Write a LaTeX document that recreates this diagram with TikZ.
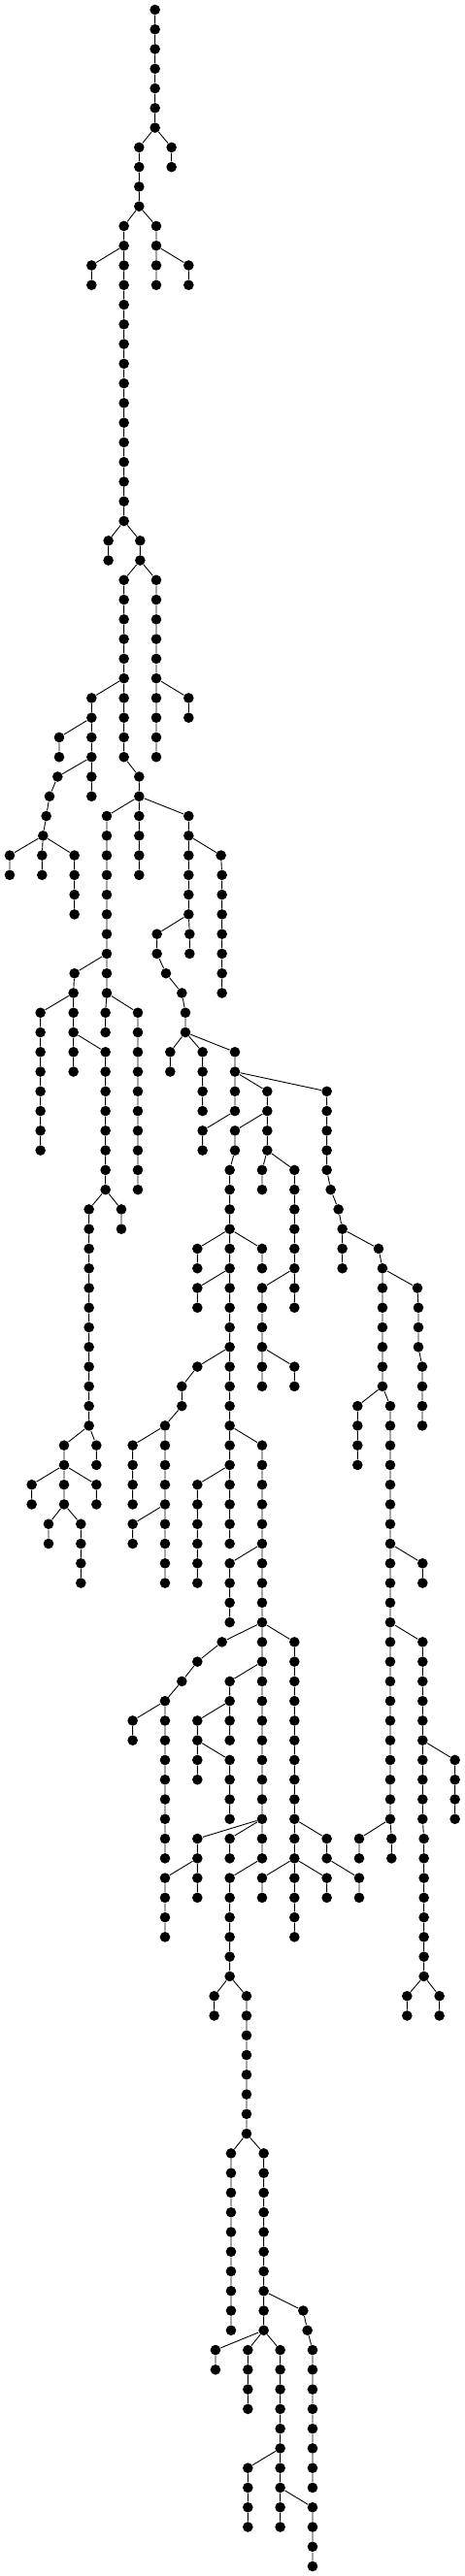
\documentclass[tikz,border=0pt]{standalone}
\begin{document}
\begin{tikzpicture}[x=0.33333pt,y=-20.27pt,line width=0.9pt,
  vtx/.style={circle,fill=black,minimum size=10.6pt,inner sep=0pt}]
\useasboundingbox (0,-0.4933) rectangle (1437,130.4933);

% levels 0 - 14
\node[vtx] (v0x479) at (479,0) {};
\node[vtx] (v1x479) at (479,1) {};
\node[vtx] (v2x479) at (479,2) {};
\node[vtx] (v3x479) at (479,3) {};
\node[vtx] (v4x479) at (479,4) {};
\node[vtx] (v5x479) at (479,5) {};
\node[vtx] (v6x479) at (479,6) {};
\node[vtx] (v7x430) at (430,7) {}; \node[vtx] (v7x530) at (530,7) {};
\node[vtx] (v8x430) at (430,8) {}; \node[vtx] (v8x530) at (530,8) {};
\node[vtx] (v9x430) at (430,9) {};
\node[vtx] (v10x430) at (430,10) {};
\node[vtx] (v11x383) at (383,11) {}; \node[vtx] (v11x483) at (483,11) {};
\node[vtx] (v12x383) at (383,12) {}; \node[vtx] (v12x483) at (483,12) {};
\node[vtx] (v13x283) at (283,13) {}; \node[vtx] (v13x383) at (383,13) {}; \node[vtx] (v13x483) at (483,13) {}; \node[vtx] (v13x583) at (583,13) {};
\node[vtx] (v14x283) at (283,14) {}; \node[vtx] (v14x383) at (383,14) {}; \node[vtx] (v14x483) at (483,14) {}; \node[vtx] (v14x583) at (583,14) {};

% levels 15 - 42
\node[vtx] (v15x383) at (383,15) {};
\node[vtx] (v16x383) at (383,16) {};
\node[vtx] (v17x383) at (383,17) {};
\node[vtx] (v18x383) at (383,18) {};
\node[vtx] (v19x383) at (383,19) {};
\node[vtx] (v20x383) at (383,20) {};
\node[vtx] (v21x383) at (383,21) {};
\node[vtx] (v22x383) at (383,22) {};
\node[vtx] (v23x383) at (383,23) {};
\node[vtx] (v24x383) at (383,24) {};
\node[vtx] (v25x383) at (383,25) {};
\node[vtx] (v26x383) at (383,26) {};
\node[vtx] (v27x335) at (335,27) {}; \node[vtx] (v27x433) at (433,27) {};
\node[vtx] (v28x335) at (335,28) {}; \node[vtx] (v28x433) at (433,28) {};
\node[vtx] (v29x383) at (383,29) {}; \node[vtx] (v29x483) at (483,29) {};
\node[vtx] (v30x383) at (383,30) {}; \node[vtx] (v30x483) at (483,30) {};
\node[vtx] (v31x383) at (383,31) {}; \node[vtx] (v31x483) at (483,31) {};
\node[vtx] (v32x383) at (383,32) {}; \node[vtx] (v32x483) at (483,32) {};
\node[vtx] (v33x383) at (383,33) {}; \node[vtx] (v33x483) at (483,33) {};
\node[vtx] (v34x383) at (383,34) {}; \node[vtx] (v34x483) at (483,34) {};
\node[vtx] (v35x283) at (283,35) {}; \node[vtx] (v35x383) at (383,35) {}; \node[vtx] (v35x483) at (483,35) {}; \node[vtx] (v35x583) at (583,35) {};
\node[vtx] (v36x283) at (283,36) {}; \node[vtx] (v36x383) at (383,36) {}; \node[vtx] (v36x483) at (483,36) {}; \node[vtx] (v36x583) at (583,36) {};
\node[vtx] (v37x183) at (183,37) {}; \node[vtx] (v37x283) at (283,37) {}; \node[vtx] (v37x383) at (383,37) {}; \node[vtx] (v37x483) at (483,37) {};
\node[vtx] (v38x183) at (183,38) {}; \node[vtx] (v38x283) at (283,38) {}; \node[vtx] (v38x383) at (383,38) {}; \node[vtx] (v38x483) at (483,38) {};
\node[vtx] (v39x178) at (178,39) {}; \node[vtx] (v39x283) at (283,39) {}; \node[vtx] (v39x430) at (430,39) {};
\node[vtx] (v40x153) at (153,40) {}; \node[vtx] (v40x283) at (283,40) {}; \node[vtx] (v40x430) at (430,40) {};
\node[vtx] (v41x143) at (143,41) {}; \node[vtx] (v41x330) at (330,41) {}; \node[vtx] (v41x430) at (430,41) {}; \node[vtx] (v41x583) at (583,41) {};
\node[vtx] (v42x133) at (133,42) {}; \node[vtx] (v42x330) at (330,42) {}; \node[vtx] (v42x430) at (430,42) {}; \node[vtx] (v42x583) at (583,42) {};

% levels 43 - 62
\node[vtx] (v43x30) at (30,43) {}; \node[vtx] (v43x130) at (130,43) {}; \node[vtx] (v43x230) at (230,43) {}; \node[vtx] (v43x330) at (330,43) {}; \node[vtx] (v43x430) at (430,43) {}; \node[vtx] (v43x583) at (583,43) {}; \node[vtx] (v43x683) at (683,43) {};
\node[vtx] (v44x30) at (30,44) {}; \node[vtx] (v44x130) at (130,44) {}; \node[vtx] (v44x230) at (230,44) {}; \node[vtx] (v44x330) at (330,44) {}; \node[vtx] (v44x430) at (430,44) {}; \node[vtx] (v44x583) at (583,44) {}; \node[vtx] (v44x686) at (686,44) {};
\node[vtx] (v45x230) at (230,45) {}; \node[vtx] (v45x330) at (330,45) {}; \node[vtx] (v45x583) at (583,45) {}; \node[vtx] (v45x686) at (686,45) {};
\node[vtx] (v46x230) at (230,46) {}; \node[vtx] (v46x330) at (330,46) {}; \node[vtx] (v46x583) at (583,46) {}; \node[vtx] (v46x686) at (686,46) {};
\node[vtx] (v47x330) at (330,47) {}; \node[vtx] (v47x485) at (485,47) {}; \node[vtx] (v47x586) at (586,47) {}; \node[vtx] (v47x686) at (686,47) {};
\node[vtx] (v48x330) at (330,48) {}; \node[vtx] (v48x485) at (485,48) {}; \node[vtx] (v48x586) at (586,48) {}; \node[vtx] (v48x686) at (686,48) {};
\node[vtx] (v49x230) at (230,49) {}; \node[vtx] (v49x330) at (330,49) {}; \node[vtx] (v49x513) at (513,49) {}; \node[vtx] (v49x686) at (686,49) {};
\node[vtx] (v50x227) at (227,50) {}; \node[vtx] (v50x330) at (330,50) {}; \node[vtx] (v50x562) at (562,50) {}; \node[vtx] (v50x686) at (686,50) {};
\node[vtx] (v51x125) at (125,51) {}; \node[vtx] (v51x227) at (227,51) {}; \node[vtx] (v51x326) at (326,51) {}; \node[vtx] (v51x426) at (426,51) {}; \node[vtx] (v51x573) at (573,51) {};
\node[vtx] (v52x125) at (125,52) {}; \node[vtx] (v52x227) at (227,52) {}; \node[vtx] (v52x326) at (326,52) {}; \node[vtx] (v52x426) at (426,52) {}; \node[vtx] (v52x573) at (573,52) {};
\node[vtx] (v53x125) at (125,53) {}; \node[vtx] (v53x227) at (227,53) {}; \node[vtx] (v53x326) at (326,53) {}; \node[vtx] (v53x426) at (426,53) {}; \node[vtx] (v53x526) at (526,53) {}; \node[vtx] (v53x626) at (626,53) {}; \node[vtx] (v53x726) at (726,53) {};
\node[vtx] (v54x125) at (125,54) {}; \node[vtx] (v54x227) at (227,54) {}; \node[vtx] (v54x326) at (326,54) {}; \node[vtx] (v54x426) at (426,54) {}; \node[vtx] (v54x526) at (526,54) {}; \node[vtx] (v54x626) at (626,54) {}; \node[vtx] (v54x726) at (726,54) {};
\node[vtx] (v55x125) at (125,55) {}; \node[vtx] (v55x326) at (326,55) {}; \node[vtx] (v55x426) at (426,55) {}; \node[vtx] (v55x626) at (626,55) {}; \node[vtx] (v55x726) at (726,55) {}; \node[vtx] (v55x826) at (826,55) {}; \node[vtx] (v55x1010) at (1010,55) {};
\node[vtx] (v56x125) at (125,56) {}; \node[vtx] (v56x326) at (326,56) {}; \node[vtx] (v56x426) at (426,56) {}; \node[vtx] (v56x626) at (626,56) {}; \node[vtx] (v56x726) at (726,56) {}; \node[vtx] (v56x826) at (826,56) {}; \node[vtx] (v56x1010) at (1010,56) {};
\node[vtx] (v57x125) at (125,57) {}; \node[vtx] (v57x326) at (326,57) {}; \node[vtx] (v57x426) at (426,57) {}; \node[vtx] (v57x626) at (626,57) {}; \node[vtx] (v57x726) at (726,57) {}; \node[vtx] (v57x826) at (826,57) {}; \node[vtx] (v57x1010) at (1010,57) {};
\node[vtx] (v58x125) at (125,58) {}; \node[vtx] (v58x326) at (326,58) {}; \node[vtx] (v58x426) at (426,58) {}; \node[vtx] (v58x626) at (626,58) {}; \node[vtx] (v58x726) at (726,58) {}; \node[vtx] (v58x826) at (826,58) {}; \node[vtx] (v58x1010) at (1010,58) {};
\node[vtx] (v59x326) at (326,59) {}; \node[vtx] (v59x426) at (426,59) {}; \node[vtx] (v59x710) at (710,59) {}; \node[vtx] (v59x810) at (810,59) {}; \node[vtx] (v59x910) at (910,59) {}; \node[vtx] (v59x1010) at (1010,59) {};
\node[vtx] (v60x326) at (326,60) {}; \node[vtx] (v60x426) at (426,60) {}; \node[vtx] (v60x710) at (710,60) {}; \node[vtx] (v60x810) at (810,60) {}; \node[vtx] (v60x910) at (910,60) {}; \node[vtx] (v60x1022) at (1022,60) {};
\node[vtx] (v61x275) at (275,61) {}; \node[vtx] (v61x375) at (375,61) {}; \node[vtx] (v61x710) at (710,61) {}; \node[vtx] (v61x910) at (910,61) {}; \node[vtx] (v61x1046) at (1046,61) {};
\node[vtx] (v62x275) at (275,62) {}; \node[vtx] (v62x375) at (375,62) {}; \node[vtx] (v62x710) at (710,62) {}; \node[vtx] (v62x910) at (910,62) {}; \node[vtx] (v62x1058) at (1058,62) {};

% levels 63 - 82
\node[vtx] (v63x275) at (275,63) {}; \node[vtx] (v63x610) at (610,63) {}; \node[vtx] (v63x710) at (710,63) {}; \node[vtx] (v63x810) at (810,63) {}; \node[vtx] (v63x910) at (910,63) {}; \node[vtx] (v63x1058) at (1058,63) {}; \node[vtx] (v63x1170) at (1170,63) {};
\node[vtx] (v64x275) at (275,64) {}; \node[vtx] (v64x610) at (610,64) {}; \node[vtx] (v64x710) at (710,64) {}; \node[vtx] (v64x810) at (810,64) {}; \node[vtx] (v64x910) at (910,64) {}; \node[vtx] (v64x1058) at (1058,64) {}; \node[vtx] (v64x1182) at (1182,64) {};
\node[vtx] (v65x275) at (275,65) {}; \node[vtx] (v65x610) at (610,65) {}; \node[vtx] (v65x710) at (710,65) {}; \node[vtx] (v65x810) at (810,65) {}; \node[vtx] (v65x910) at (910,65) {}; \node[vtx] (v65x1182) at (1182,65) {}; \node[vtx] (v65x1290) at (1290,65) {};
\node[vtx] (v66x275) at (275,66) {}; \node[vtx] (v66x610) at (610,66) {}; \node[vtx] (v66x710) at (710,66) {}; \node[vtx] (v66x810) at (810,66) {}; \node[vtx] (v66x910) at (910,66) {}; \node[vtx] (v66x1182) at (1182,66) {}; \node[vtx] (v66x1293) at (1293,66) {};
\node[vtx] (v67x275) at (275,67) {}; \node[vtx] (v67x710) at (710,67) {}; \node[vtx] (v67x810) at (810,67) {}; \node[vtx] (v67x1182) at (1182,67) {}; \node[vtx] (v67x1293) at (1293,67) {};
\node[vtx] (v68x275) at (275,68) {}; \node[vtx] (v68x710) at (710,68) {}; \node[vtx] (v68x810) at (810,68) {}; \node[vtx] (v68x1182) at (1182,68) {}; \node[vtx] (v68x1293) at (1293,68) {};
\node[vtx] (v69x275) at (275,69) {}; \node[vtx] (v69x610) at (610,69) {}; \node[vtx] (v69x710) at (710,69) {}; \node[vtx] (v69x810) at (810,69) {}; \node[vtx] (v69x910) at (910,69) {}; \node[vtx] (v69x1182) at (1182,69) {}; \node[vtx] (v69x1305) at (1305,69) {};
\node[vtx] (v70x275) at (275,70) {}; \node[vtx] (v70x562) at (562,70) {}; \node[vtx] (v70x710) at (710,70) {}; \node[vtx] (v70x810) at (810,70) {}; \node[vtx] (v70x910) at (910,70) {}; \node[vtx] (v70x1182) at (1182,70) {}; \node[vtx] (v70x1305) at (1305,70) {};
\node[vtx] (v71x275) at (275,71) {}; \node[vtx] (v71x562) at (562,71) {}; \node[vtx] (v71x710) at (710,71) {}; \node[vtx] (v71x1105) at (1105,71) {}; \node[vtx] (v71x1206) at (1206,71) {}; \node[vtx] (v71x1305) at (1305,71) {};
\node[vtx] (v72x275) at (275,72) {}; \node[vtx] (v72x510) at (510,72) {}; \node[vtx] (v72x710) at (710,72) {}; \node[vtx] (v72x1105) at (1105,72) {}; \node[vtx] (v72x1206) at (1206,72) {}; \node[vtx] (v72x1305) at (1305,72) {};
\node[vtx] (v73x198) at (198,73) {}; \node[vtx] (v73x298) at (298,73) {}; \node[vtx] (v73x410) at (410,73) {}; \node[vtx] (v73x510) at (510,73) {}; \node[vtx] (v73x710) at (710,73) {}; \node[vtx] (v73x810) at (810,73) {}; \node[vtx] (v73x1105) at (1105,73) {}; \node[vtx] (v73x1206) at (1206,73) {};
\node[vtx] (v74x198) at (198,74) {}; \node[vtx] (v74x298) at (298,74) {}; \node[vtx] (v74x410) at (410,74) {}; \node[vtx] (v74x510) at (510,74) {}; \node[vtx] (v74x710) at (710,74) {}; \node[vtx] (v74x810) at (810,74) {}; \node[vtx] (v74x1105) at (1105,74) {}; \node[vtx] (v74x1206) at (1206,74) {};
\node[vtx] (v75x98) at (98,75) {}; \node[vtx] (v75x198) at (198,75) {}; \node[vtx] (v75x298) at (298,75) {}; \node[vtx] (v75x410) at (410,75) {}; \node[vtx] (v75x510) at (510,75) {}; \node[vtx] (v75x610) at (610,75) {}; \node[vtx] (v75x710) at (710,75) {}; \node[vtx] (v75x810) at (810,75) {}; \node[vtx] (v75x1206) at (1206,75) {};
\node[vtx] (v76x98) at (98,76) {}; \node[vtx] (v76x198) at (198,76) {}; \node[vtx] (v76x298) at (298,76) {}; \node[vtx] (v76x410) at (410,76) {}; \node[vtx] (v76x510) at (510,76) {}; \node[vtx] (v76x610) at (610,76) {}; \node[vtx] (v76x710) at (710,76) {}; \node[vtx] (v76x810) at (810,76) {}; \node[vtx] (v76x1206) at (1206,76) {};
\node[vtx] (v77x150) at (150,77) {}; \node[vtx] (v77x250) at (250,77) {}; \node[vtx] (v77x410) at (410,77) {}; \node[vtx] (v77x510) at (510,77) {}; \node[vtx] (v77x610) at (610,77) {}; \node[vtx] (v77x710) at (710,77) {}; \node[vtx] (v77x810) at (810,77) {}; \node[vtx] (v77x1206) at (1206,77) {};
\node[vtx] (v78x150) at (150,78) {}; \node[vtx] (v78x250) at (250,78) {}; \node[vtx] (v78x410) at (410,78) {}; \node[vtx] (v78x510) at (510,78) {}; \node[vtx] (v78x610) at (610,78) {}; \node[vtx] (v78x710) at (710,78) {}; \node[vtx] (v78x810) at (810,78) {}; \node[vtx] (v78x1206) at (1206,78) {};
\node[vtx] (v79x250) at (250,79) {}; \node[vtx] (v79x510) at (510,79) {}; \node[vtx] (v79x610) at (610,79) {}; \node[vtx] (v79x710) at (710,79) {}; \node[vtx] (v79x810) at (810,79) {}; \node[vtx] (v79x1206) at (1206,79) {}; \node[vtx] (v79x1306) at (1306,79) {};
\node[vtx] (v80x250) at (250,80) {}; \node[vtx] (v80x510) at (510,80) {}; \node[vtx] (v80x610) at (610,80) {}; \node[vtx] (v80x710) at (710,80) {}; \node[vtx] (v80x810) at (810,80) {}; \node[vtx] (v80x1206) at (1206,80) {}; \node[vtx] (v80x1306) at (1306,80) {};
\node[vtx] (v81x710) at (710,81) {}; \node[vtx] (v81x810) at (810,81) {}; \node[vtx] (v81x1206) at (1206,81) {};
\node[vtx] (v82x710) at (710,82) {}; \node[vtx] (v82x810) at (810,82) {}; \node[vtx] (v82x1206) at (1206,82) {};

% levels 83 - 102
\node[vtx] (v83x686) at (686,83) {}; \node[vtx] (v83x810) at (810,83) {}; \node[vtx] (v83x910) at (910,83) {}; \node[vtx] (v83x1206) at (1206,83) {}; \node[vtx] (v83x1306) at (1306,83) {};
\node[vtx] (v84x610) at (610,84) {}; \node[vtx] (v84x810) at (810,84) {}; \node[vtx] (v84x910) at (910,84) {}; \node[vtx] (v84x1206) at (1206,84) {}; \node[vtx] (v84x1306) at (1306,84) {};
\node[vtx] (v85x562) at (562,85) {}; \node[vtx] (v85x710) at (710,85) {}; \node[vtx] (v85x810) at (810,85) {}; \node[vtx] (v85x910) at (910,85) {}; \node[vtx] (v85x1206) at (1206,85) {}; \node[vtx] (v85x1306) at (1306,85) {};
\node[vtx] (v86x510) at (510,86) {}; \node[vtx] (v86x710) at (710,86) {}; \node[vtx] (v86x810) at (810,86) {}; \node[vtx] (v86x910) at (910,86) {}; \node[vtx] (v86x1206) at (1206,86) {}; \node[vtx] (v86x1306) at (1306,86) {};
\node[vtx] (v87x410) at (410,87) {}; \node[vtx] (v87x510) at (510,87) {}; \node[vtx] (v87x610) at (610,87) {}; \node[vtx] (v87x710) at (710,87) {}; \node[vtx] (v87x810) at (810,87) {}; \node[vtx] (v87x910) at (910,87) {}; \node[vtx] (v87x1206) at (1206,87) {}; \node[vtx] (v87x1306) at (1306,87) {};
\node[vtx] (v88x410) at (410,88) {}; \node[vtx] (v88x510) at (510,88) {}; \node[vtx] (v88x610) at (610,88) {}; \node[vtx] (v88x710) at (710,88) {}; \node[vtx] (v88x810) at (810,88) {}; \node[vtx] (v88x910) at (910,88) {}; \node[vtx] (v88x1206) at (1206,88) {}; \node[vtx] (v88x1306) at (1306,88) {};
\node[vtx] (v89x510) at (510,89) {}; \node[vtx] (v89x610) at (610,89) {}; \node[vtx] (v89x710) at (710,89) {}; \node[vtx] (v89x810) at (810,89) {}; \node[vtx] (v89x910) at (910,89) {}; \node[vtx] (v89x1206) at (1206,89) {}; \node[vtx] (v89x1306) at (1306,89) {}; \node[vtx] (v89x1406) at (1406,89) {};
\node[vtx] (v90x510) at (510,90) {}; \node[vtx] (v90x610) at (610,90) {}; \node[vtx] (v90x710) at (710,90) {}; \node[vtx] (v90x810) at (810,90) {}; \node[vtx] (v90x910) at (910,90) {}; \node[vtx] (v90x1206) at (1206,90) {}; \node[vtx] (v90x1306) at (1306,90) {}; \node[vtx] (v90x1406) at (1406,90) {};
\node[vtx] (v91x510) at (510,91) {}; \node[vtx] (v91x710) at (710,91) {}; \node[vtx] (v91x810) at (810,91) {}; \node[vtx] (v91x910) at (910,91) {}; \node[vtx] (v91x1206) at (1206,91) {}; \node[vtx] (v91x1306) at (1306,91) {}; \node[vtx] (v91x1406) at (1406,91) {};
\node[vtx] (v92x510) at (510,92) {}; \node[vtx] (v92x710) at (710,92) {}; \node[vtx] (v92x810) at (810,92) {}; \node[vtx] (v92x910) at (910,92) {}; \node[vtx] (v92x1206) at (1206,92) {}; \node[vtx] (v92x1306) at (1306,92) {}; \node[vtx] (v92x1406) at (1406,92) {};
\node[vtx] (v93x510) at (510,93) {}; \node[vtx] (v93x610) at (610,93) {}; \node[vtx] (v93x710) at (710,93) {}; \node[vtx] (v93x810) at (810,93) {}; \node[vtx] (v93x910) at (910,93) {}; \node[vtx] (v93x1010) at (1010,93) {}; \node[vtx] (v93x1110) at (1110,93) {}; \node[vtx] (v93x1210) at (1210,93) {}; \node[vtx] (v93x1310) at (1310,93) {};
\node[vtx] (v94x510) at (510,94) {}; \node[vtx] (v94x610) at (610,94) {}; \node[vtx] (v94x710) at (710,94) {}; \node[vtx] (v94x810) at (810,94) {}; \node[vtx] (v94x910) at (910,94) {}; \node[vtx] (v94x1010) at (1010,94) {}; \node[vtx] (v94x1110) at (1110,94) {}; \node[vtx] (v94x1210) at (1210,94) {}; \node[vtx] (v94x1310) at (1310,94) {};
\node[vtx] (v95x510) at (510,95) {}; \node[vtx] (v95x610) at (610,95) {}; \node[vtx] (v95x710) at (710,95) {}; \node[vtx] (v95x810) at (810,95) {}; \node[vtx] (v95x910) at (910,95) {}; \node[vtx] (v95x1010) at (1010,95) {}; \node[vtx] (v95x1110) at (1110,95) {}; \node[vtx] (v95x1310) at (1310,95) {};
\node[vtx] (v96x510) at (510,96) {}; \node[vtx] (v96x610) at (610,96) {}; \node[vtx] (v96x710) at (710,96) {}; \node[vtx] (v96x810) at (810,96) {}; \node[vtx] (v96x910) at (910,96) {}; \node[vtx] (v96x1010) at (1010,96) {}; \node[vtx] (v96x1110) at (1110,96) {}; \node[vtx] (v96x1310) at (1310,96) {};
\node[vtx] (v97x510) at (510,97) {}; \node[vtx] (v97x710) at (710,97) {}; \node[vtx] (v97x910) at (910,97) {}; \node[vtx] (v97x1310) at (1310,97) {};
\node[vtx] (v98x510) at (510,98) {}; \node[vtx] (v98x710) at (710,98) {}; \node[vtx] (v98x910) at (910,98) {}; \node[vtx] (v98x1310) at (1310,98) {};
\node[vtx] (v99x710) at (710,99) {}; \node[vtx] (v99x1310) at (1310,99) {};
\node[vtx] (v100x710) at (710,100) {}; \node[vtx] (v100x1310) at (1310,100) {};
\node[vtx] (v101x662) at (662,101) {}; \node[vtx] (v101x762) at (762,101) {}; \node[vtx] (v101x1258) at (1258,101) {}; \node[vtx] (v101x1358) at (1358,101) {};
\node[vtx] (v102x662) at (662,102) {}; \node[vtx] (v102x762) at (762,102) {}; \node[vtx] (v102x1258) at (1258,102) {}; \node[vtx] (v102x1358) at (1358,102) {};

% levels 103 - 130
\node[vtx] (v103x762) at (762,103) {};
\node[vtx] (v104x762) at (762,104) {};
\node[vtx] (v105x762) at (762,105) {};
\node[vtx] (v106x762) at (762,106) {};
\node[vtx] (v107x762) at (762,107) {};
\node[vtx] (v108x762) at (762,108) {};
\node[vtx] (v109x714) at (714,109) {}; \node[vtx] (v109x815) at (815,109) {};
\node[vtx] (v110x714) at (714,110) {}; \node[vtx] (v110x815) at (815,110) {};
\node[vtx] (v111x714) at (714,111) {}; \node[vtx] (v111x815) at (815,111) {};
\node[vtx] (v112x714) at (714,112) {}; \node[vtx] (v112x815) at (815,112) {};
\node[vtx] (v113x714) at (714,113) {}; \node[vtx] (v113x815) at (815,113) {};
\node[vtx] (v114x714) at (714,114) {}; \node[vtx] (v114x815) at (815,114) {};
\node[vtx] (v115x714) at (714,115) {}; \node[vtx] (v115x815) at (815,115) {};
\node[vtx] (v116x714) at (714,116) {}; \node[vtx] (v116x815) at (815,116) {};
\node[vtx] (v117x714) at (714,117) {}; \node[vtx] (v117x815) at (815,117) {}; \node[vtx] (v117x937) at (937,117) {};
\node[vtx] (v118x714) at (714,118) {}; \node[vtx] (v118x815) at (815,118) {}; \node[vtx] (v118x950) at (950,118) {};
\node[vtx] (v119x666) at (666,119) {}; \node[vtx] (v119x766) at (766,119) {}; \node[vtx] (v119x866) at (866,119) {}; \node[vtx] (v119x966) at (966,119) {};
\node[vtx] (v120x666) at (666,120) {}; \node[vtx] (v120x766) at (766,120) {}; \node[vtx] (v120x866) at (866,120) {}; \node[vtx] (v120x966) at (966,120) {};
\node[vtx] (v121x766) at (766,121) {}; \node[vtx] (v121x866) at (866,121) {}; \node[vtx] (v121x966) at (966,121) {};
\node[vtx] (v122x766) at (766,122) {}; \node[vtx] (v122x866) at (866,122) {}; \node[vtx] (v122x966) at (966,122) {};
\node[vtx] (v123x866) at (866,123) {}; \node[vtx] (v123x966) at (966,123) {};
\node[vtx] (v124x866) at (866,124) {}; \node[vtx] (v124x966) at (966,124) {};
\node[vtx] (v125x766) at (766,125) {}; \node[vtx] (v125x866) at (866,125) {}; \node[vtx] (v125x966) at (966,125) {};
\node[vtx] (v126x766) at (766,126) {}; \node[vtx] (v126x866) at (866,126) {}; \node[vtx] (v126x966) at (966,126) {};
\node[vtx] (v127x766) at (766,127) {}; \node[vtx] (v127x866) at (866,127) {}; \node[vtx] (v127x966) at (966,127) {};
\node[vtx] (v128x766) at (766,128) {}; \node[vtx] (v128x866) at (866,128) {}; \node[vtx] (v128x966) at (966,128) {};
\node[vtx] (v129x966) at (966,129) {};
\node[vtx] (v130x966) at (966,130) {};

% edges
\draw (v0x479) -- (v1x479) -- (v2x479) -- (v3x479) -- (v4x479) -- (v5x479) -- (v6x479) -- (v7x430) -- (v8x430) -- (v9x430) -- (v10x430) -- (v11x383) -- (v12x383) -- (v13x383) -- (v14x383) -- (v15x383) -- (v16x383) -- (v17x383) -- (v18x383) -- (v19x383) -- (v20x383) -- (v21x383) -- (v22x383) -- (v23x383) -- (v24x383) -- (v25x383) -- (v26x383) -- (v27x433) -- (v28x433) -- (v29x383) -- (v30x383) -- (v31x383) -- (v32x383) -- (v33x383) -- (v34x383) -- (v35x383) -- (v36x383) -- (v37x383) -- (v38x383) -- (v39x430) -- (v40x430) -- (v41x430) -- (v42x430) -- (v43x430) -- (v44x430);
\draw (v6x479) -- (v7x530) -- (v8x530);
\draw (v10x430) -- (v11x483) -- (v12x483) -- (v13x483) -- (v14x483);
\draw (v12x383) -- (v13x283) -- (v14x283);
\draw (v12x483) -- (v13x583) -- (v14x583);
\draw (v26x383) -- (v27x335) -- (v28x335);
\draw (v28x433) -- (v29x483) -- (v30x483) -- (v31x483) -- (v32x483) -- (v33x483) -- (v34x483) -- (v35x483) -- (v36x483) -- (v37x483) -- (v38x483);
\draw (v34x483) -- (v35x583) -- (v36x583);
\draw (v34x383) -- (v35x283) -- (v36x283) -- (v37x283) -- (v38x283) -- (v39x283) -- (v40x283);
\draw (v36x283) -- (v37x183) -- (v38x183);
\draw (v38x283) -- (v39x178) -- (v40x153) -- (v41x143) -- (v42x133) -- (v43x130) -- (v44x130);
\draw (v42x133) -- (v43x30) -- (v44x30);
\draw (v42x133) -- (v43x230) -- (v44x230) -- (v45x230) -- (v46x230);
\draw (v40x430) -- (v41x330) -- (v42x330) -- (v43x330) -- (v44x330) -- (v45x330) -- (v46x330) -- (v47x330) -- (v48x330) -- (v49x330) -- (v50x330) -- (v51x426) -- (v52x426) -- (v53x426) -- (v54x426) -- (v55x426) -- (v56x426) -- (v57x426) -- (v58x426) -- (v59x426) -- (v60x426);
\draw (v50x330) -- (v51x326) -- (v52x326);
\draw (v48x330) -- (v49x230) -- (v50x227) -- (v51x227) -- (v52x227) -- (v53x227) -- (v54x227);
\draw (v50x227) -- (v51x125) -- (v52x125) -- (v53x125) -- (v54x125) -- (v55x125) -- (v56x125) -- (v57x125) -- (v58x125);
\draw (v52x227) -- (v53x326) -- (v54x326) -- (v55x326) -- (v56x326) -- (v57x326) -- (v58x326) -- (v59x326) -- (v60x326) -- (v61x375) -- (v62x375);
\draw (v60x326) -- (v61x275) -- (v62x275) -- (v63x275) -- (v64x275) -- (v65x275) -- (v66x275) -- (v67x275) -- (v68x275) -- (v69x275) -- (v70x275) -- (v71x275) -- (v72x275) -- (v73x198) -- (v74x198) -- (v75x198) -- (v76x198) -- (v77x250) -- (v78x250) -- (v79x250) -- (v80x250);
\draw (v72x275) -- (v73x298) -- (v74x298);
\draw (v74x198) -- (v75x98) -- (v76x98);
\draw (v74x198) -- (v75x298) -- (v76x298);
\draw (v76x198) -- (v77x150) -- (v78x150);
\draw (v40x430) -- (v41x583) -- (v42x583) -- (v43x583) -- (v44x583) -- (v45x583) -- (v46x583) -- (v47x586) -- (v48x586);
\draw (v42x583) -- (v43x683) -- (v44x686) -- (v45x686) -- (v46x686) -- (v47x686) -- (v48x686) -- (v49x686) -- (v50x686);
\draw (v46x583) -- (v47x485) -- (v48x485) -- (v49x513) -- (v50x562) -- (v51x573) -- (v52x573) -- (v53x626) -- (v54x626) -- (v55x626) -- (v56x626);
\draw (v52x573) -- (v53x526) -- (v54x526);
\draw (v52x573) -- (v53x726) -- (v54x726) -- (v55x726) -- (v56x726) -- (v57x626) -- (v58x626);
\draw (v54x726) -- (v55x826) -- (v56x826) -- (v57x826) -- (v58x826) -- (v59x910) -- (v60x910) -- (v61x910) -- (v62x910) -- (v63x910) -- (v64x910) -- (v65x910) -- (v66x910);
\draw (v56x826) -- (v57x726) -- (v58x726) -- (v59x710) -- (v60x710) -- (v61x710) -- (v62x710) -- (v63x710) -- (v64x710) -- (v65x710) -- (v66x710) -- (v67x710) -- (v68x710) -- (v69x710) -- (v70x710) -- (v71x710) -- (v72x710) -- (v73x710) -- (v74x710) -- (v75x710) -- (v76x710) -- (v77x710) -- (v78x710);
\draw (v58x826) -- (v59x810) -- (v60x810);
\draw (v54x726) -- (v55x1010) -- (v56x1010) -- (v57x1010) -- (v58x1010) -- (v59x1010) -- (v60x1022) -- (v61x1046) -- (v62x1058) -- (v63x1058) -- (v64x1058);
\draw (v62x1058) -- (v63x1170) -- (v64x1182) -- (v65x1182) -- (v66x1182) -- (v67x1182) -- (v68x1182) -- (v69x1182) -- (v70x1182) -- (v71x1206) -- (v72x1206) -- (v73x1206) -- (v74x1206) -- (v75x1206) -- (v76x1206) -- (v77x1206) -- (v78x1206) -- (v79x1206) -- (v80x1206) -- (v81x1206) -- (v82x1206) -- (v83x1206) -- (v84x1206) -- (v85x1206) -- (v86x1206) -- (v87x1206) -- (v88x1206) -- (v89x1206) -- (v90x1206) -- (v91x1206) -- (v92x1206) -- (v93x1210) -- (v94x1210);
\draw (v70x1182) -- (v71x1105) -- (v72x1105) -- (v73x1105) -- (v74x1105);
\draw (v64x1182) -- (v65x1290) -- (v66x1293) -- (v67x1293) -- (v68x1293) -- (v69x1305) -- (v70x1305) -- (v71x1305) -- (v72x1305);
\draw (v78x1206) -- (v79x1306) -- (v80x1306);
\draw (v82x1206) -- (v83x1306) -- (v84x1306) -- (v85x1306) -- (v86x1306) -- (v87x1306) -- (v88x1306) -- (v89x1306) -- (v90x1306) -- (v91x1306) -- (v92x1306) -- (v93x1310) -- (v94x1310) -- (v95x1310) -- (v96x1310) -- (v97x1310) -- (v98x1310) -- (v99x1310) -- (v100x1310) -- (v101x1358) -- (v102x1358);
\draw (v100x1310) -- (v101x1258) -- (v102x1258);
\draw (v88x1306) -- (v89x1406) -- (v90x1406) -- (v91x1406) -- (v92x1406);
\draw (v92x1206) -- (v93x1110) -- (v94x1110);
\draw (v62x710) -- (v63x610) -- (v64x610);
\draw (v62x710) -- (v63x810) -- (v64x810);
\draw (v64x710) -- (v65x610) -- (v66x610);
\draw (v64x910) -- (v65x810) -- (v66x810) -- (v67x810) -- (v68x810) -- (v69x810) -- (v70x810);
\draw (v68x810) -- (v69x910) -- (v70x910);
\draw (v68x710) -- (v69x610) -- (v70x562) -- (v71x562) -- (v72x510) -- (v73x510) -- (v74x510) -- (v75x510) -- (v76x510) -- (v77x510) -- (v78x510) -- (v79x510) -- (v80x510);
\draw (v72x510) -- (v73x410) -- (v74x410) -- (v75x410) -- (v76x410);
\draw (v76x510) -- (v77x410) -- (v78x410);
\draw (v72x710) -- (v73x810) -- (v74x810) -- (v75x810) -- (v76x810) -- (v77x810) -- (v78x810) -- (v79x810) -- (v80x810) -- (v81x810) -- (v82x810) -- (v83x810) -- (v84x810) -- (v85x810) -- (v86x810) -- (v87x810) -- (v88x810) -- (v89x810) -- (v90x810) -- (v91x810) -- (v92x810) -- (v93x810) -- (v94x810) -- (v95x710) -- (v96x710) -- (v97x710) -- (v98x710) -- (v99x710) -- (v100x710) -- (v101x762) -- (v102x762) -- (v103x762) -- (v104x762) -- (v105x762) -- (v106x762) -- (v107x762) -- (v108x762) -- (v109x815) -- (v110x815) -- (v111x815) -- (v112x815) -- (v113x815) -- (v114x815) -- (v115x815) -- (v116x815) -- (v117x815) -- (v118x815) -- (v119x866) -- (v120x866) -- (v121x866) -- (v122x866) -- (v123x866) -- (v124x866) -- (v125x866) -- (v126x866) -- (v127x866) -- (v128x866);
\draw (v74x710) -- (v75x610) -- (v76x610) -- (v77x610) -- (v78x610) -- (v79x610) -- (v80x610);
\draw (v78x810) -- (v79x710) -- (v80x710) -- (v81x710) -- (v82x710);
\draw (v82x810) -- (v83x686) -- (v84x610) -- (v85x562) -- (v86x510) -- (v87x510) -- (v88x510) -- (v89x510) -- (v90x510) -- (v91x510) -- (v92x510) -- (v93x510) -- (v94x510);
\draw (v86x510) -- (v87x410) -- (v88x410);
\draw (v82x810) -- (v83x910) -- (v84x910) -- (v85x910) -- (v86x910) -- (v87x910) -- (v88x910) -- (v89x910) -- (v90x910) -- (v91x910) -- (v92x910) -- (v93x910) -- (v94x910) -- (v95x910) -- (v96x910) -- (v97x910) -- (v98x910);
\draw (v84x810) -- (v85x710) -- (v86x710) -- (v87x710) -- (v88x710);
\draw (v86x710) -- (v87x610) -- (v88x610) -- (v89x610) -- (v90x610);
\draw (v88x610) -- (v89x710) -- (v90x710) -- (v91x710) -- (v92x710);
\draw (v92x810) -- (v93x610) -- (v94x610) -- (v95x610) -- (v96x610);
\draw (v94x610) -- (v95x510) -- (v96x510) -- (v97x510) -- (v98x510);
\draw (v92x810) -- (v93x710) -- (v94x710);
\draw (v92x910) -- (v93x1010) -- (v94x1010) -- (v95x1110) -- (v96x1110);
\draw (v94x910) -- (v95x810) -- (v96x810);
\draw (v94x910) -- (v95x1010) -- (v96x1010);
\draw (v100x710) -- (v101x662) -- (v102x662);
\draw (v108x762) -- (v109x714) -- (v110x714) -- (v111x714) -- (v112x714) -- (v113x714) -- (v114x714) -- (v115x714) -- (v116x714) -- (v117x714) -- (v118x714);
\draw (v116x815) -- (v117x937) -- (v118x950) -- (v119x966) -- (v120x966) -- (v121x966) -- (v122x966) -- (v123x966) -- (v124x966) -- (v125x966) -- (v126x966);
\draw (v118x815) -- (v119x666) -- (v120x666);
\draw (v118x815) -- (v119x766) -- (v120x766) -- (v121x766) -- (v122x766);
\draw (v124x866) -- (v125x766) -- (v126x766) -- (v127x766) -- (v128x766);
\draw (v126x866) -- (v127x966) -- (v128x966) -- (v129x966) -- (v130x966);
\end{tikzpicture}
\end{document}
